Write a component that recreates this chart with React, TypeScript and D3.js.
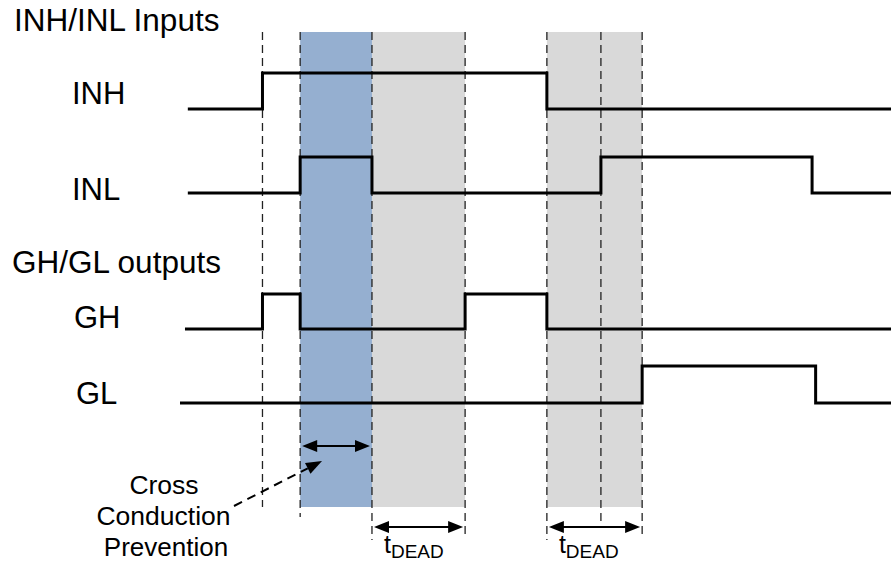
import * as d3 from 'd3';

// time axis in arbitrary units, 0..100 across the drawing
const T_END = 100;

type Signal = { name: string; start: number; edges: number[] };

const inputs: Signal[] = [
  { name: 'INH', start: 1.1, edges: [11.6, 51.6] },
  { name: 'INL', start: 1.1, edges: [16.9, 27.0, 59.2, 88.9] },
];
const outputs: Signal[] = [
  { name: 'GH', start: 0.7, edges: [11.6, 16.9, 40.1, 51.6] },
  { name: 'GL', start: 0, edges: [65.0, 89.4] },
];
const signalNames = ['INH', 'INL', 'GH', 'GL'];

const crossBand: [number, number] = [16.9, 27.0];
const deadBands: [number, number][] = [
  [27.0, 40.1],
  [51.6, 65.0],
];
// dashed guide lines: time and how far down they reach (0..1 of the lower area)
const guides: { t: number; reach: number }[] = [
  { t: 11.6, reach: 0.0 },
  { t: 16.9, reach: 0.3 },
  { t: 27.0, reach: 1.0 },
  { t: 40.1, reach: 0.9 },
  { t: 51.6, reach: 1.0 },
  { t: 59.2, reach: 0.5 },
  { t: 65.0, reach: 0.95 },
];

const W = 891;
const H = 563;
const font = '"Liberation Sans", Arial, sans-serif';

export default function App() {
  const x = d3.scaleLinear().domain([0, T_END]).range([180, 891]);
  const lowY = d3.scaleOrdinal<string, number>().domain(signalNames).range([109, 193, 329, 403]);
  const highY = d3.scaleOrdinal<string, number>().domain(signalNames).range([73, 157, 294, 366]);
  const bandTop = 32;
  const bandBottom = 507;
  const guideEnd = d3.scaleLinear().domain([0, 1]).range([507, 540]);

  const wave = (s: Signal) => {
    const pts: [number, number][] = [];
    let level = 0;
    const y = () => (level ? highY(s.name) : lowY(s.name));
    pts.push([x(s.start), y()]);
    s.edges.forEach(e => {
      pts.push([x(e), y()]);
      level = 1 - level;
      pts.push([x(e), y()]);
    });
    pts.push([x(T_END), y()]);
    return d3.line()(pts) ?? '';
  };

  const dblArrow = (a: number, b: number, y: number, key: string) => {
    const x1 = x(a);
    const x2 = x(b);
    const L = 15;
    const hw = 6;
    return (
      <g key={key}>
        <line x1={x1 + L - 2} x2={x2 - L + 2} y1={y} y2={y} stroke="#000" strokeWidth={2} />
        <path d={`M${x1 + 2},${y} L${x1 + 2 + L},${y - hw} L${x1 + 2 + L},${y + hw} Z`} fill="#000" />
        <path d={`M${x2 - 2},${y} L${x2 - 2 - L},${y - hw} L${x2 - 2 - L},${y + hw} Z`} fill="#000" />
      </g>
    );
  };

  const labelX: Record<string, number> = { INH: 72, INL: 72, GH: 74, GL: 76 };
  const labelY: Record<string, number> = { INH: 104, INL: 200, GH: 328, GL: 404 };

  // dashed pointer arrow
  const p0: [number, number] = [234, 506];
  const tip: [number, number] = [322, 461];
  const ang = Math.atan2(tip[1] - p0[1], tip[0] - p0[0]);
  const ah = 16;
  const aw = 6;
  const bx = tip[0] - ah * Math.cos(ang);
  const by = tip[1] - ah * Math.sin(ang);
  const headPath = `M${tip[0]},${tip[1]} L${bx - aw * Math.sin(ang)},${by + aw * Math.cos(ang)} L${bx + aw * Math.sin(ang)},${by - aw * Math.cos(ang)} Z`;

  return (
    <svg
      width={W}
      height={H}
      style={{ position: 'absolute', left: 0, top: 0, background: '#fff' }}
      fontFamily={font}
    >
      <rect
        x={x(crossBand[0])}
        y={bandTop}
        width={x(crossBand[1]) - x(crossBand[0])}
        height={bandBottom - bandTop}
        fill="#95AFD0"
      />
      {deadBands.map((b, i) => (
        <rect
          key={i}
          x={x(b[0])}
          y={bandTop}
          width={x(b[1]) - x(b[0])}
          height={bandBottom - bandTop}
          fill="#D9D9D9"
        />
      ))}
      {guides.map((g, i) => (
        <line
          key={i}
          x1={x(g.t)}
          x2={x(g.t)}
          y1={bandTop}
          y2={guideEnd(g.reach)}
          stroke="#222"
          strokeWidth={1.3}
          strokeDasharray="8,5"
        />
      ))}
      {[...inputs, ...outputs].map(s => (
        <path key={s.name} d={wave(s)} fill="none" stroke="#000" strokeWidth={3} strokeLinejoin="miter" />
      ))}

      <text x={14} y={31} fontSize={31.5}>INH/INL Inputs</text>
      <text x={12} y={273} fontSize={31.5}>GH/GL outputs</text>
      {signalNames.map(n => (
        <text key={n} x={labelX[n]} y={labelY[n]} fontSize={31}>{n}</text>
      ))}

      {dblArrow(crossBand[0], crossBand[1], 446, 'cc')}
      {deadBands.map((b, i) => dblArrow(b[0], b[1], 527, 'd' + i))}

      <line x1={p0[0]} y1={p0[1]} x2={bx} y2={by} stroke="#000" strokeWidth={2} strokeDasharray="9,6" />
      <path d={headPath} fill="#000" />

      <g fontSize={26.5} textAnchor="middle">
        <text x={164} y={494}>Cross</text>
        <text x={163.5} y={525}>Conduction</text>
        <text x={166} y={556} fontSize={26}>Prevention</text>
      </g>

      {deadBands.map((b, i) => (
        <text key={i} x={x(b[0]) + 12} y={553} fontSize={25}>
          t<tspan fontSize={19} dy={5}>DEAD</tspan>
        </text>
      ))}
    </svg>
  );
}
